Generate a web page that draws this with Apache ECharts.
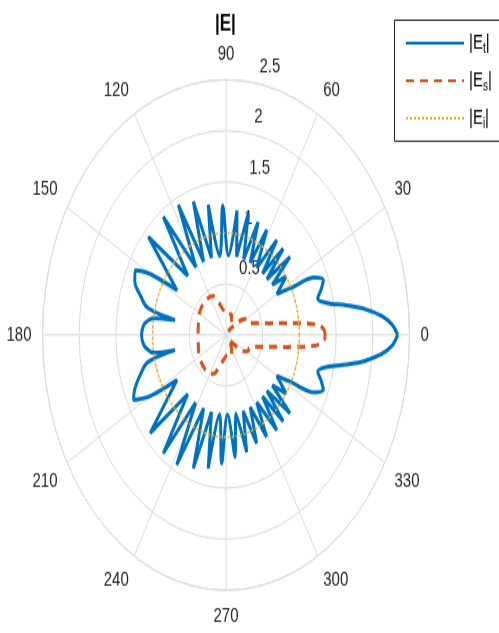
<!DOCTYPE html>
<html>
<head>
<meta charset="utf-8">
<script src="https://cdn.jsdelivr.net/npm/echarts@6/dist/echarts.min.js"></script>
<style>
  html, body { margin: 0; padding: 0; background: #fff; overflow: hidden; }
  #wrap { width: 499px; height: 633px; overflow: hidden; }
  #chart { width: 499px; height: 455px; transform: scaleY(1.3912); transform-origin: 0 0; }
</style>
</head>
<body>
<div id="wrap"><div id="chart"></div></div>
<script>
// ---- data (angle in degrees, magnitude) ----
const angleTicks = [0, 30, 60, 90, 120, 150, 180, 210, 240, 270, 300, 330];
const radiusTicks = [0.5, 1, 1.5, 2, 2.5];

// |E_t| upper half (0..180)
const etAnglesUpper = [0, 2.5, 5, 7.5, 10, 13, 16, 19, 22, 25, 27.5, 30, 35, 38, 41.3, 44.4, 47.4, 50.4, 53.4, 57.5, 61.7, 65, 68.4, 72, 75.7, 79.3, 83, 87.5, 92, 96.3, 100.7, 104.7, 108.8, 113, 117, 121.7, 126.4, 132, 137.7, 146.7, 150, 152.8, 157, 162, 166, 168, 170.5, 174, 177, 180];
const etValuesUpper = [2.34, 2.27, 2.13, 1.92, 1.67, 1.40, 1.30, 1.37, 1.43, 1.33, 1.0, 0.8, 1.0, 0.8, 1.16, 0.78, 1.15, 0.78, 1.16, 0.78, 1.17, 0.78, 1.19, 0.78, 1.23, 0.78, 1.23, 0.78, 1.27, 0.78, 1.30, 0.78, 1.38, 0.78, 1.43, 0.78, 1.44, 0.78, 1.43, 0.80, 1.2, 1.39, 1.35, 1.22, 1.1, 0.71, 1.0, 1.11, 1.14, 1.15];
// |E_t| lower half (180..360)
const etAnglesLower = [183, 186, 190, 192, 194, 198, 203, 206.8, 210, 213.3, 222.9, 228, 233.6, 238, 242.2, 247, 251.2, 255.3, 259.5, 263.5, 267.3, 271.5, 275.9, 280, 283.8, 287.5, 291.5, 295, 299, 302.5, 306.6, 309.6, 312.6, 315.6, 318.7, 322, 325, 330, 332.5, 335, 338, 341, 344, 347, 350, 352.5, 355, 357.5, 360];
const etValuesLower = [1.14, 1.11, 1.0, 0.71, 1.1, 1.22, 1.35, 1.41, 1.2, 0.80, 1.41, 0.78, 1.44, 0.78, 1.44, 0.78, 1.38, 0.78, 1.33, 0.78, 1.26, 0.78, 1.2, 0.78, 1.18, 0.78, 1.14, 0.78, 1.14, 0.78, 1.16, 0.78, 1.15, 0.78, 1.16, 0.8, 1.0, 0.8, 1.0, 1.33, 1.43, 1.37, 1.30, 1.40, 1.67, 1.92, 2.13, 2.27, 2.34];

// |E_s|
const esAngles = [0, 2, 4, 5.5, 7, 9, 11, 14, 18, 22, 27, 32, 40, 50, 60, 70, 85, 100, 115, 130, 150, 165, 180, 195, 210, 230, 245, 260, 275, 290, 300, 310, 320, 328, 333, 338, 342, 346, 349, 351, 353, 354.5, 356, 358, 360];
const esValues = [1.35, 1.34, 1.28, 1.15, 0.95, 0.75, 0.6, 0.48, 0.38, 0.34, 0.34, 0.3, 0.15, 0.05, 0.15, 0.22, 0.2, 0.26, 0.42, 0.44, 0.42, 0.39, 0.38, 0.39, 0.42, 0.44, 0.42, 0.26, 0.2, 0.22, 0.15, 0.05, 0.15, 0.3, 0.34, 0.34, 0.38, 0.48, 0.6, 0.75, 0.95, 1.15, 1.28, 1.34, 1.35];

// |E_i| (incident, constant)
const eiAngles = [0, 10, 20, 30, 40, 50, 60, 70, 80, 90, 100, 110, 120, 130, 140, 150, 160, 170, 180, 190, 200, 210, 220, 230, 240, 250, 260, 270, 280, 290, 300, 310, 320, 330, 340, 350, 360];
const eiValues = [1, 1, 1, 1, 1, 1, 1, 1, 1, 1, 1, 1, 1, 1, 1, 1, 1, 1, 1, 1, 1, 1, 1, 1, 1, 1, 1, 1, 1, 1, 1, 1, 1, 1, 1, 1, 1];

const seriesNames = ['Et', 'Es', 'Ei'];
const subs = { Et: 't', Es: 's', Ei: 'i' };

function pairs(vals, angs) { return vals.map((v, i) => [v, angs[i]]); }
const etData = pairs(etValuesUpper, etAnglesUpper).concat(pairs(etValuesLower, etAnglesLower));
const esData = pairs(esValues, esAngles);
const eiData = pairs(eiValues, eiAngles);

const CX = 226, CY = 240.8, R = 183.5;
const gridColor = '#dcdcdc';
const textColor = '#262626';
const font = 'Liberation Sans, Arial, sans-serif';

const chart = echarts.init(document.getElementById('chart'), null, { renderer: 'canvas' });
chart.setOption({
  animation: false,
  backgroundColor: '#fff',
  graphic: [
    {
      type: 'text', left: 215, top: 9, z: 10,
      style: { text: '|E|', font: 'bold 17px Liberation Sans, Arial, sans-serif', fill: '#000' }
    },
    {
      type: 'rect', z: 1, silent: true,
      shape: { x: 394.5, y: 14.5, width: 140, height: 87 },
      style: { fill: '#fff', stroke: '#262626', lineWidth: 1 }
    }
  ],
  legend: {
    data: seriesNames,
    orient: 'vertical',
    left: 394, top: 14, z: 20,
    padding: [8, 10, 8, 11],
    itemGap: 9,
    itemWidth: 58, itemHeight: 14,
    itemStyle: { opacity: 0 },
    formatter: n => '|E{s|' + subs[n] + '}|',
    textStyle: {
      fontSize: 15, color: '#000', fontFamily: font, lineHeight: 18,
      rich: { s: { fontSize: 10, lineHeight: 8, verticalAlign: 'bottom', fontFamily: font, color: '#000' } }
    }
  },
  polar: [
    { center: [CX, CY], radius: R },
    { center: [CX, CY], radius: R }
  ],
  angleAxis: [
    {
      polarIndex: 0, type: 'value', min: 0, max: 360, interval: 30,
      startAngle: 0, clockwise: false,
      axisLine: { show: true, lineStyle: { color: gridColor, width: 1 } },
      axisTick: { show: false },
      splitLine: { show: true, lineStyle: { color: gridColor, width: 1 } },
      axisLabel: {
        show: true, margin: 11, fontSize: 15, color: textColor, fontFamily: font,
        formatter: v => (angleTicks.indexOf(v) >= 0 ? String(v) : '')
      }
    },
    { polarIndex: 1, type: 'value', min: 0, max: 360, startAngle: 82, show: false }
  ],
  radiusAxis: [
    {
      polarIndex: 0, type: 'value', min: 0, max: 2.5, interval: 0.5,
      axisLine: { show: false }, axisTick: { show: false },
      axisLabel: { show: false },
      splitLine: { show: true, lineStyle: { color: gridColor, width: 1 } }
    },
    {
      polarIndex: 1, type: 'value', min: 0, max: 2.5, interval: 0.5,
      axisLine: { show: false }, axisTick: { show: false }, splitLine: { show: false },
      axisLabel: {
        show: true, margin: -8, align: 'left', verticalAlign: 'bottom', padding: [0, 0, 5, 0],
        fontSize: 15, color: textColor, fontFamily: font,
        formatter: v => (radiusTicks.indexOf(v) >= 0 ? String(v) : '')
      }
    }
  ],
  series: [
    {
      name: 'Et', type: 'line', coordinateSystem: 'polar', polarIndex: 0,
      data: etData, showSymbol: false, symbol: 'none', smooth: 0.35,
      lineStyle: { color: '#0072BD', width: 3 }, itemStyle: { color: '#0072BD' }, z: 3
    },
    {
      name: 'Es', type: 'line', coordinateSystem: 'polar', polarIndex: 0,
      data: esData, showSymbol: false, symbol: 'none', smooth: 0.35,
      lineStyle: { color: '#D95319', width: 3, type: [8, 6] }, itemStyle: { color: '#D95319' }, z: 4
    },
    {
      name: 'Ei', type: 'line', coordinateSystem: 'polar', polarIndex: 0,
      data: eiData, showSymbol: false, symbol: 'none', smooth: true,
      lineStyle: { color: '#EDB120', width: 1.5, type: [2, 2] }, itemStyle: { color: '#EDB120' }, z: 5
    }
  ]
});
</script>
</body>
</html>
